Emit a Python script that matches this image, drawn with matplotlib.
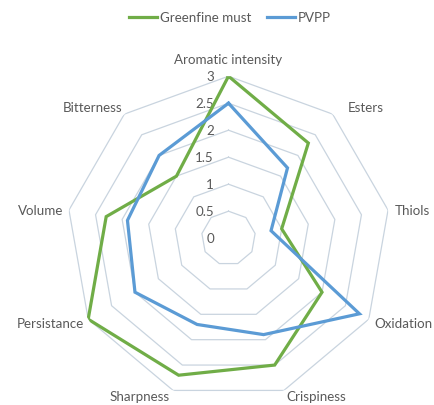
import numpy as np
import matplotlib
matplotlib.use("Agg")
import matplotlib.pyplot as plt

categories = ["Aromatic intensity", "Esters", "Thiols", "Oxidation", "Crispiness",
              "Sharpness", "Persistance", "Volume", "Bitterness"]
greenfine = [3.0, 2.3, 1.0, 2.0, 2.5, 2.7, 3.0, 2.3, 1.5]
pvpp = [2.5, 1.7, 0.8, 2.8, 1.9, 1.7, 2.0, 1.9, 2.0]
r_ticks = [0, 0.5, 1, 1.5, 2, 2.5, 3]
r_tick_labels = ["0", "0.5", "1", "1.5", "2", "2.5", "3"]

plt.rcParams['font.family'] = ['Lato', 'DejaVu Sans']
W, H = 435, 406
fig = plt.figure(figsize=(W / 100, H / 100), dpi=100)
cx, cy, R = 228.5, 239.2, 162.0
ax = fig.add_axes([(cx - R) / W, (H - cy - R) / H, 2 * R / W, 2 * R / H], projection='polar')
ax.set_theta_offset(np.pi / 2)
ax.set_theta_direction(-1)
ax.set_ylim(0, 3)
ax.grid(False)
ax.spines['polar'].set_visible(False)
ax.set_xticks([])
ax.set_yticks([])
ax.patch.set_visible(False)

n = len(categories)
theta = np.arange(n) * 2 * np.pi / n
theta_c = np.append(theta, theta[0])
grid_col = '#c9d4df'
for rv in r_ticks[1:]:
    ax.plot(theta_c, [rv] * (n + 1), color=grid_col, lw=0.9, zorder=1)

g = np.append(greenfine, greenfine[0])
b = np.append(pvpp, pvpp[0])
lg, = ax.plot(theta_c, g, color='#70ad47', lw=2.3, zorder=3, solid_joinstyle='miter', label='Greenfine must')
lb, = ax.plot(theta_c, b, color='#5b9bd5', lw=2.3, zorder=3, solid_joinstyle='miter', label='PVPP')

txt_col = '#595959'
fs = 9.6
for rv, lab in zip(r_ticks, r_tick_labels):
    ax.annotate(lab, xy=(0, rv), xytext=(-10.5, 0), textcoords='offset points',
                ha='right', va='center', fontsize=fs, color=txt_col, zorder=2)

# label placement: (offset_x px, offset_y px, ha, va)
place = [
    (0, 17, 'center', 'center'),
    (15, 7, 'left', 'center'),
    (7, 0, 'left', 'center'),
    (6, -4, 'left', 'center'),
    (2, -6, 'left', 'center'),
    (-3, -6, 'right', 'center'),
    (-4, -4, 'right', 'center'),
    (-6, 0, 'right', 'center'),
    (-2, 7, 'right', 'center'),
]
for t, lab, (dx, dy, ha, va) in zip(theta, categories, place):
    ax.annotate(lab, xy=(t, 3), xytext=(dx * 0.72, dy * 0.72), textcoords='offset points',
                ha=ha, va=va, fontsize=fs, color=txt_col, annotation_clip=False)

fig.legend(handles=[lg, lb], loc='center', bbox_to_anchor=(230 / W, 1 - 18.5 / H), ncol=2,
           frameon=False, fontsize=fs, labelcolor=txt_col, handlelength=2.1,
           handletextpad=0.2, columnspacing=1.2, borderaxespad=0)

fig.savefig('out.png', dpi=100)
